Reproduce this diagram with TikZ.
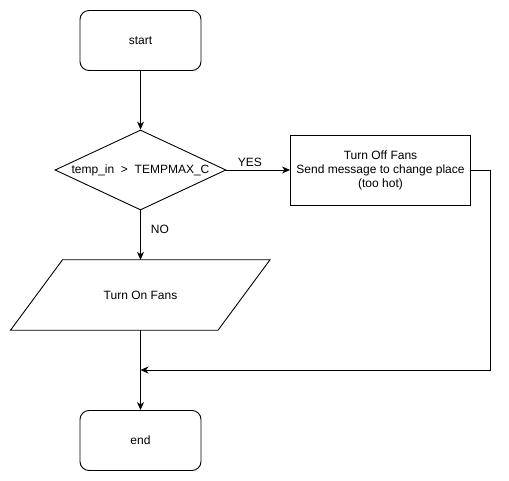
\documentclass[tikz,border=0pt]{standalone}
\usepackage{fontspec}
\setmainfont{Liberation Sans}
\usetikzlibrary{shapes.geometric,arrows.meta,calc}
\begin{document}
\begin{tikzpicture}[x=1pt,y=-1pt,
  every node/.style={font=\fontsize{12}{14}\selectfont},
  termbox/.style={draw,rounded corners=9pt,minimum width=121pt,minimum height=60pt,inner sep=0pt,line width=0.9pt},
  procbox/.style={draw,minimum width=180pt,minimum height=70pt,align=center,inner sep=0pt,line width=0.9pt},
  decbox/.style={draw,diamond,aspect=2.14,minimum width=171pt,minimum height=80pt,inner sep=0pt,line width=0.9pt},
  iobox/.style={minimum width=156pt,minimum height=70pt,inner sep=0pt},
  arrline/.style={line width=0.9pt,-{Stealth[length=8pt,width=7pt,inset=2.5pt]}},
  plainline/.style={line width=0.9pt}
]
\useasboundingbox (0,0) rectangle (509,481);
\node[termbox] (start) at (140.5,40.5) {start};
\node[decbox] (dec) at (140.5,170) {temp\_in\ \ >\ \ TEMPMAX\_C};
\node[procbox] (off) at (380.5,170) {Turn Off Fans\\Send message to change place\\(too hot)};
\node[iobox] (on) at (140.5,295) {Turn On Fans};
\draw[plainline] ([xshift=-78pt]on.north) -- ([xshift=129.5pt]on.north) -- ([xshift=77.5pt]on.south) -- ([xshift=-130pt]on.south) -- cycle;
\node[termbox] (end) at (140.5,440.5) {end};
\coordinate (c1) at (490,170);
\coordinate (c2) at (490,370);
\coordinate (m) at (140.5,370);
\draw[arrline] (start) -- (dec);
\draw[arrline] (dec) -- node[pos=0.37,above,inner sep=3pt] {YES} (off);
\draw[arrline] (dec) -- node[pos=0.38,right,inner sep=0pt,xshift=10pt] {NO} (on);
\draw[arrline] (on) -- (end);
\draw[arrline] (off.east) -- (c1) -- (c2) -- (m);
\end{tikzpicture}
\end{document}
